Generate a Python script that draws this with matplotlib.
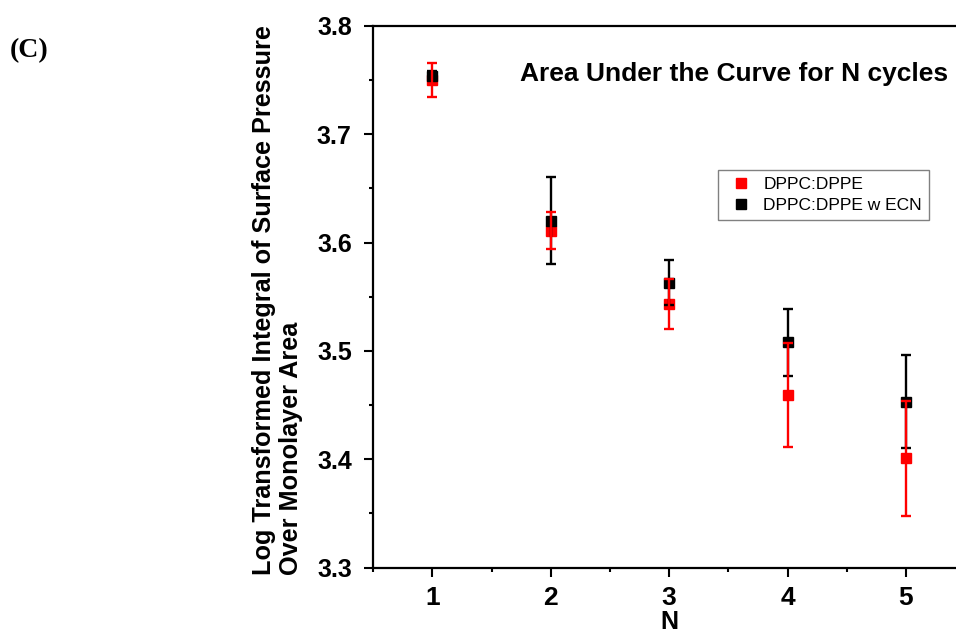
import numpy as np
import matplotlib
matplotlib.use('Agg')
import matplotlib.pyplot as plt
from matplotlib.ticker import MultipleLocator

# cycles
N = [1, 2, 3, 4, 5]
# DPPC:DPPE
dppe = [3.750, 3.611, 3.543, 3.459, 3.401]
dppe_err = [0.016, 0.017, 0.023, 0.048, 0.053]
# DPPC:DPPE w ECN
ecn = [3.754, 3.620, 3.563, 3.508, 3.453]
ecn_err = [0.004, 0.040, 0.021, 0.031, 0.043]

plt.rcParams['font.family'] = ['Liberation Sans', 'DejaVu Sans']

f = plt.figure(figsize=(9.56, 6.35), dpi=100)
ax = f.add_axes([0.3905, 0.106, 0.619, 0.8535])

# markers underneath, error bars on top (as in the original)
ax.plot(N, dppe, 's', color='red', ms=7.5, zorder=2, label='DPPC:DPPE')
ax.plot(N, ecn, 's', color='black', ms=7.5, zorder=2.1, label='DPPC:DPPE w ECN')
ax.errorbar(N, ecn, yerr=ecn_err, fmt='none', ecolor='black', elinewidth=1.7,
            capsize=3.8, capthick=1.7, zorder=3)
ax.errorbar(N, dppe, yerr=dppe_err, fmt='none', ecolor='red', elinewidth=1.7,
            capsize=3.8, capthick=1.7, zorder=3.1)

ax.set_xlim(0.5, 5.5)
ax.set_ylim(3.3, 3.8)
ax.xaxis.set_major_locator(MultipleLocator(1))
ax.xaxis.set_minor_locator(MultipleLocator(0.5))
ax.yaxis.set_major_locator(MultipleLocator(0.1))
ax.yaxis.set_minor_locator(MultipleLocator(0.05))
ax.set_yticks([3.3, 3.4, 3.5, 3.6, 3.7, 3.8])
ax.set_yticklabels(['3.3', '3.4', '3.5', '3.6', '3.7', '3.8'])
ax.tick_params(which='major', direction='out', length=6.5, width=1.5)
ax.tick_params(which='minor', direction='out', length=3, width=1.5)
ax.tick_params(axis='x', labelsize=19, pad=7)
ax.tick_params(axis='y', labelsize=18, pad=9)
for lab in ax.get_xticklabels() + ax.get_yticklabels():
    lab.set_fontweight('bold')
for s in ['left', 'bottom', 'top']:
    ax.spines[s].set_linewidth(1.6)
ax.spines['right'].set_visible(False)

ax.set_xlabel('N', fontsize=18, fontweight='bold', labelpad=0)
f.text(0.2905, 0.094, 'Log Transformed Integral of Surface Pressure\nOver Monolayer Area',
       rotation=90, ha='center', va='bottom', multialignment='left',
       fontsize=18.2, fontweight='bold', linespacing=1.15)

f.text(0.544, 0.872, 'Area Under the Curve for N cycles', fontsize=19, fontweight='bold')
f.text(0.01, 0.91, '(C)', fontsize=20, fontweight='bold', family='Liberation Serif')

ax.legend(loc='upper left', bbox_to_anchor=(718 / 956, 1 - 170 / 635), bbox_transform=f.transFigure,
          borderaxespad=0, fontsize=12.5, frameon=True, fancybox=False, edgecolor='gray',
          framealpha=1, borderpad=0.4, handletextpad=0.4, handlelength=1.8,
          markerscale=0.9, labelspacing=0.35)

f.savefig('out.png', dpi=100)
plt.close()
